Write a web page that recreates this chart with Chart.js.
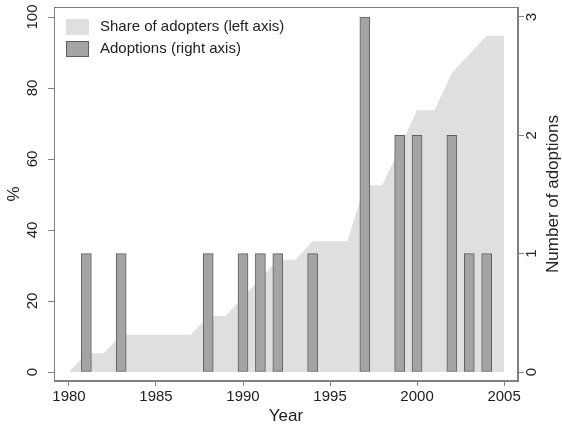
<!DOCTYPE html>
<html><head><meta charset="utf-8">
<script src="https://cdn.jsdelivr.net/npm/chart.js@4"></script>
<style>html,body{margin:0;padding:0;background:#fff}</style>
</head><body>
<canvas id="c" width="562" height="428"></canvas>
<script>
const years = [1980,1981,1982,1983,1984,1985,1986,1987,1988,1989,1990,1991,1992,1993,1994,1995,1996,1997,1998,1999,2000,2001,2002,2003,2004,2005];
const shareOfAdopters = [0,5.3,5.3,10.5,10.5,10.5,10.5,10.5,15.8,15.8,21.1,26.3,31.6,31.6,36.8,36.8,36.8,52.6,52.6,63.2,73.7,73.7,84.2,89.5,94.7,94.7];
const adoptions = [0,1,0,1,0,0,0,0,1,0,1,1,1,0,1,0,0,3,0,2,2,0,2,1,1,0];
const xTickValues = [1980,1985,1990,1995,2000,2005];
const leftTickValues = [0,20,40,60,80,100];
const rightTickValues = [0,1,2,3];
const legendLabels = ['Share of adopters (left axis)','Adoptions (right axis)'];

const FONT = 'Liberation Sans, Arial, Helvetica, sans-serif';
const TXT = '#222';
const AX = '#808080';
const AREA = '#dfdfdf';
const BAR = '#a4a4a4';
const BAR_BORDER = '#5e5e5e';

const areaPts = years.map((y,i)=>({x:y, y:shareOfAdopters[i]}));
const barPts = years.map((y,i)=>({x:y, y:adoptions[i]})).filter(p=>p.y>0);

const extras = {
  id:'extras',
  afterDraw(chart){
    const ctx = chart.ctx, a = chart.chartArea;
    const sy = chart.scales.y, sy1 = chart.scales.y1;
    ctx.save();
    ctx.strokeStyle = AX; ctx.lineWidth = 1;
    ctx.strokeRect(a.left+0.5, a.top+0.5, a.right-a.left-1, a.bottom-a.top-1);
    ctx.fillStyle = TXT;
    ctx.textAlign = 'center'; ctx.textBaseline = 'middle';
    ctx.font = '15px ' + FONT;
    const rot = (txt,x,y)=>{ctx.save();ctx.translate(x,y);ctx.rotate(-Math.PI/2);ctx.fillText(txt,0,0);ctx.restore();};
    leftTickValues.forEach(v=>rot(String(v),33,sy.getPixelForValue(v)));
    rightTickValues.forEach(v=>rot(String(v),532,sy1.getPixelForValue(v)));
    ctx.font = '17px ' + FONT;
    const cy = (a.top+a.bottom)/2;
    rot('%',14,cy);
    rot('Number of adoptions',553,cy);
    ctx.font = '15px ' + FONT;
    ctx.textAlign = 'left';
    ctx.fillStyle = AREA;
    ctx.fillRect(66,19,23,16);
    ctx.fillStyle = BAR;
    ctx.fillRect(66,41,23,16);
    ctx.strokeStyle = BAR_BORDER;
    ctx.strokeRect(66.5,41.5,22,15);
    ctx.fillStyle = TXT;
    ctx.fillText(legendLabels[0],100,27);
    ctx.fillText(legendLabels[1],100,49);
    ctx.restore();
  }
};

new Chart(document.getElementById('c'),{
  type:'bar',
  data:{datasets:[
    {type:'line', label:legendLabels[0], data:areaPts, yAxisID:'y', fill:'origin', backgroundColor:AREA, borderWidth:0, borderColor:AREA, pointRadius:0, tension:0, order:2},
    {type:'bar', label:legendLabels[1], data:barPts, yAxisID:'y1', backgroundColor:BAR, borderColor:BAR_BORDER, borderWidth:1, borderSkipped:false, barThickness:10, order:1}
  ]},
  options:{
    responsive:false, devicePixelRatio:1, animation:false,
    layout:{padding:{top:7,left:0,right:0,bottom:0}},
    plugins:{legend:{display:false}, tooltip:{enabled:false}},
    scales:{
      x:{type:'linear', min:1979.14, max:2005.8, offset:false,
        afterFit(s){s.height=47;},
        afterBuildTicks(s){s.ticks=xTickValues.map(v=>({value:v}));},
        ticks:{callback:v=>String(v), font:{size:15,family:FONT}, color:TXT, padding:2, maxRotation:0, autoSkip:false},
        grid:{offset:false, drawOnChartArea:false, drawTicks:true, tickLength:5, color:AX},
        border:{display:true,color:AX},
        title:{display:true,text:'Year',font:{size:17,family:FONT},color:TXT,padding:{top:0,bottom:1}}
      },
      y:{position:'left', min:-2.535, max:102.82,
        afterFit(s){s.width=54;},
        afterBuildTicks(s){s.ticks=leftTickValues.map(v=>({value:v}));},
        ticks:{display:false},
        grid:{drawOnChartArea:false, drawTicks:true, tickLength:6, color:AX},
        border:{display:true,color:AX}
      },
      y1:{position:'right', min:-0.076, max:3.0845,
        afterFit(s){s.width=44;},
        afterBuildTicks(s){s.ticks=rightTickValues.map(v=>({value:v}));},
        ticks:{display:false},
        grid:{drawOnChartArea:false, drawTicks:true, tickLength:6, color:AX},
        border:{display:true,color:AX}
      }
    }
  },
  plugins:[extras]
});
</script>
</body></html>
